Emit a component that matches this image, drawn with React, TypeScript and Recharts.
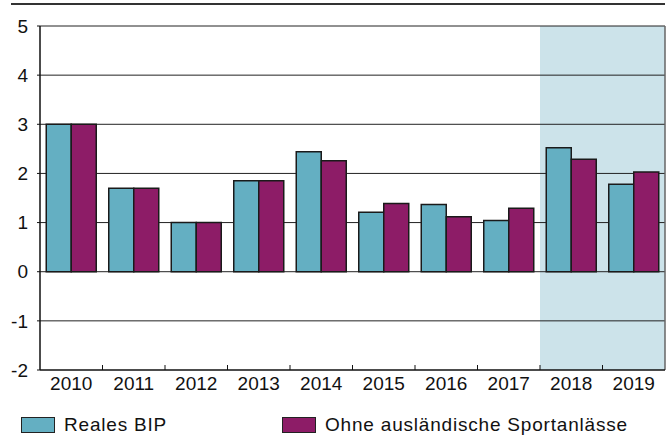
import React from "react"
import { Bar, BarChart, XAxis, YAxis, ReferenceArea, ReferenceLine } from "recharts"

const years = ["2010", "2011", "2012", "2013", "2014", "2015", "2016", "2017", "2018", "2019"]
const realesBip = [3.0, 1.7, 1.0, 1.85, 2.44, 1.21, 1.37, 1.04, 2.52, 1.78]
const ohneSport = [3.0, 1.7, 1.0, 1.85, 2.26, 1.39, 1.12, 1.29, 2.29, 2.03]
const yTicks = [-2, -1, 0, 1, 2, 3, 4, 5]
const gridLines = [-1, 0, 1, 2, 3, 4, 5]

const data = years.map((year, i) => ({ year, bip: realesBip[i], ohne: ohneSport[i] }))

const TEAL = "#64afc2"
const PURPLE = "#8d1c67"
const SHADE = "#cce3ea"
const FONT = "'Liberation Sans', Arial, sans-serif"

function YearTick(props: any) {
  const { x, y, payload, index } = props
  const half = payload.offset ?? 0
  return (
    <g>
      <text x={x} y={y + 20} textAnchor="middle" fontSize={19} fill="#111" fontFamily={FONT}>
        {payload.value}
      </text>
      {index < years.length - 1 && (
        <line x1={x + half} x2={x + half} y1={y} y2={y - 5} stroke="#111" strokeWidth={1} />
      )}
    </g>
  )
}

function LegendItem({ color, label, left }: { color: string; label: string; left: number }) {
  return (
    <div style={{ position: "absolute", left, top: 415, height: 20, display: "flex", alignItems: "center" }}>
      <div style={{ width: 32, height: 14, background: color, border: "1.5px solid #222" }} />
      <span
        style={{ marginLeft: 9, fontSize: 19, letterSpacing: 0.8, fontFamily: FONT, color: "#111", lineHeight: "20px" }}
      >
        {label}
      </span>
    </div>
  )
}

export default function App() {
  return (
    <div style={{ position: "absolute", left: 0, top: 0, width: 668, height: 437, background: "#fff", overflow: "hidden" }}>
      <div style={{ position: "absolute", left: 11, top: 3, width: 654, height: 2, background: "#333" }} />
      <BarChart
        width={668}
        height={437}
        data={data}
        margin={{ top: 26, right: 3, bottom: 37, left: 0 }}
        barCategoryGap="10%"
        barGap={0}
      >
        <ReferenceArea x1="2018" x2="2019" fill={SHADE} fillOpacity={1} stroke="none" />
        {gridLines.map((v) => (
          <ReferenceLine key={v} y={v} stroke="#222" strokeWidth={1} zIndex={250} />
        ))}
        <ReferenceLine x="2019" position="end" stroke="#666" strokeWidth={1.5} zIndex={250} />
        <XAxis
          dataKey="year"
          axisLine={{ stroke: "#111", strokeWidth: 1.5 }}
          tickLine={false}
          tickSize={0}
          tickMargin={0}
          height={30}
          interval={0}
          tick={<YearTick />}
        />
        <YAxis
          domain={[-2, 5]}
          ticks={yTicks}
          width={40}
          interval={0}
          axisLine={{ stroke: "#111", strokeWidth: 1.5 }}
          tickLine={{ stroke: "#111" }}
          tickSize={3}
          tickMargin={9}
          tick={{ fontSize: 19, fill: "#111", fontFamily: FONT }}
        />
        <Bar dataKey="bip" fill={TEAL} stroke="#1a1a1a" strokeWidth={1.5} isAnimationActive={false} />
        <Bar dataKey="ohne" fill={PURPLE} stroke="#1a1a1a" strokeWidth={1.5} isAnimationActive={false} />
      </BarChart>
      <LegendItem color={TEAL} label="Reales BIP" left={21} />
      <LegendItem color={PURPLE} label="Ohne ausländische Sportanlässe" left={282} />
    </div>
  )
}
